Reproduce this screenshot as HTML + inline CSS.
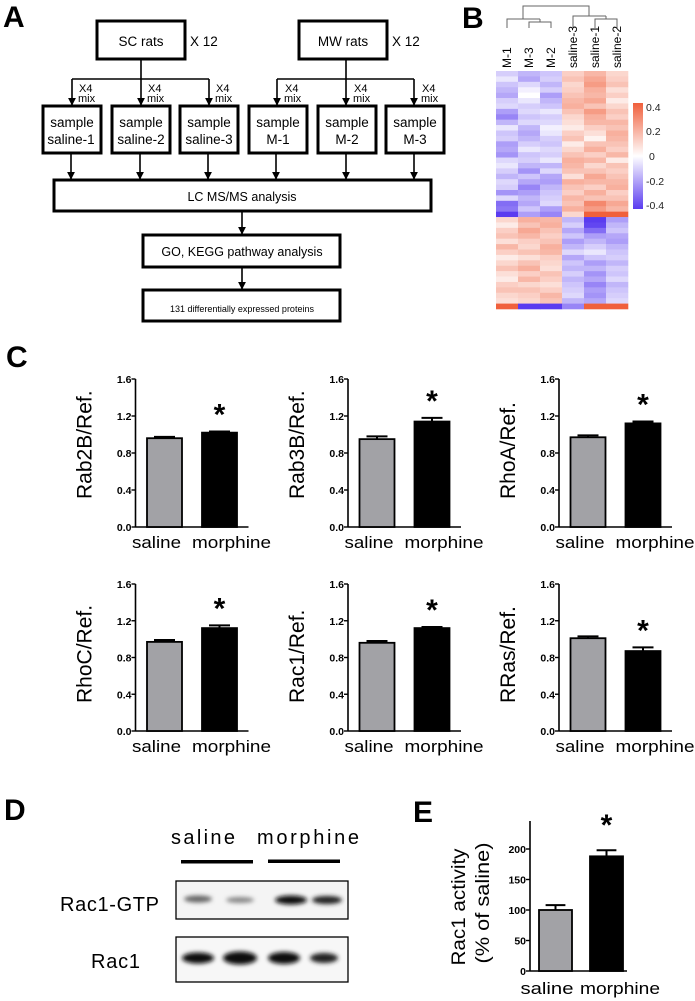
<!DOCTYPE html>
<html><head><meta charset="utf-8"><style>
html,body{margin:0;padding:0;background:#fff;}
svg{display:block;font-family:"Liberation Sans",Arial,sans-serif;}
</style></head><body>
<svg id="fig" width="695" height="1001" viewBox="0 0 695 1001" xmlns="http://www.w3.org/2000/svg">
<defs>
<marker id="ah" viewBox="0 0 10 10" refX="9" refY="5" markerWidth="5" markerHeight="5" orient="auto"><path d="M0,0 L10,5 L0,10 z" fill="#000"/></marker>
<filter id="blur" x="-30%" y="-80%" width="160%" height="260%"><feGaussianBlur stdDeviation="2.2"/></filter>
</defs>

<!-- PANEL A -->
<g>
<text x="3" y="27" font-size="30" font-weight="bold">A</text>
<g fill="none" stroke="#000" stroke-width="3">
<rect x="97" y="21" width="88" height="38"/>
<rect x="299" y="21" width="88" height="38"/>
<rect x="43" y="106" width="58" height="47"/>
<rect x="112" y="106" width="58" height="47"/>
<rect x="180" y="106" width="58" height="47"/>
<rect x="249" y="106" width="58" height="47"/>
<rect x="318" y="106" width="58" height="47"/>
<rect x="386" y="106" width="58" height="47"/>
<rect x="54" y="180" width="377" height="31"/>
<rect x="143" y="235" width="197" height="32"/>
<rect x="143" y="290" width="197" height="31"/>
</g>
<g stroke="#000" stroke-width="1.6" fill="none">
<path d="M141,59 V79 M72,79 H209 M346,59 V79 M277,79 H414"/>
<line x1="72" y1="79" x2="72" y2="105" marker-end="url(#ah)"/>
<line x1="141" y1="79" x2="141" y2="105" marker-end="url(#ah)"/>
<line x1="209" y1="79" x2="209" y2="105" marker-end="url(#ah)"/>
<line x1="277" y1="79" x2="277" y2="105" marker-end="url(#ah)"/>
<line x1="346" y1="79" x2="346" y2="105" marker-end="url(#ah)"/>
<line x1="414" y1="79" x2="414" y2="105" marker-end="url(#ah)"/>
<line x1="71" y1="154" x2="71" y2="179" marker-end="url(#ah)"/>
<line x1="140" y1="154" x2="140" y2="179" marker-end="url(#ah)"/>
<line x1="208" y1="154" x2="208" y2="179" marker-end="url(#ah)"/>
<line x1="276" y1="154" x2="276" y2="179" marker-end="url(#ah)"/>
<line x1="346" y1="154" x2="346" y2="179" marker-end="url(#ah)"/>
<line x1="414" y1="154" x2="414" y2="179" marker-end="url(#ah)"/>
<line x1="242" y1="212" x2="242" y2="234" marker-end="url(#ah)"/>
<line x1="242" y1="268" x2="242" y2="289" marker-end="url(#ah)"/>
</g>
<g font-size="13.5" text-anchor="middle">
<text x="141" y="46">SC rats</text><text x="343" y="46">MW rats</text>
<text x="72" y="127">sample</text><text x="71" y="144">saline-1</text>
<text x="141" y="127">sample</text><text x="141" y="144">saline-2</text>
<text x="209" y="127">sample</text><text x="209" y="144">saline-3</text>
<text x="278" y="127">sample</text><text x="278" y="144">M-1</text>
<text x="347" y="127">sample</text><text x="347" y="144">M-2</text>
<text x="415" y="127">sample</text><text x="415" y="144">M-3</text>
<text x="242" y="201" font-size="12.5">LC MS/MS analysis</text>
<text x="242" y="256" font-size="12.5">GO, KEGG pathway analysis</text>
<text x="242" y="312" font-size="9">131 differentially expressed proteins</text>
</g>
<g font-size="13.5"><text x="190" y="46">X 12</text><text x="392" y="46">X 12</text></g>
<g font-size="11">
<text x="79" y="92">X4</text><text x="78" y="102">mix</text>
<text x="148" y="92">X4</text><text x="147" y="102">mix</text>
<text x="216" y="92">X4</text><text x="215" y="102">mix</text>
<text x="285" y="92">X4</text><text x="284" y="102">mix</text>
<text x="354" y="92">X4</text><text x="353" y="102">mix</text>
<text x="422" y="92">X4</text><text x="421" y="102">mix</text>
</g>
</g>

<!-- PANEL B -->
<g>
<text x="462" y="28" font-size="30" font-weight="bold">B</text>
<g stroke="#666" stroke-width="1" fill="none">
<path d="M507,28 V19 H540 M529,28 V22 H551 V28 M540,22 V19 M573,28 V16 H606 M595,28 V19 H617 V28 M606,19 V16 M523,19 V6 H589 V16"/>
</g>
<g id="heatmap"></g>
<g id="hmLabels" font-size="12"></g>
<defs><linearGradient id="cbar" x1="0" y1="0" x2="0" y2="1">
<stop offset="0" stop-color="#f0603c"/><stop offset="0.5" stop-color="#ffffff"/><stop offset="1" stop-color="#5a3cf0"/></linearGradient></defs>
<rect x="633" y="103" width="10" height="106" fill="url(#cbar)"/>
<g font-size="10.5" fill="#222">
<text x="646" y="111">0.4</text><text x="646" y="135">0.2</text><text x="649" y="160">0</text><text x="646" y="185">-0.2</text><text x="646" y="209">-0.4</text>
</g>
</g>

<!-- PANEL C -->
<text x="6" y="367" font-size="30" font-weight="bold">C</text>
<g id="panelC"></g>

<!-- PANEL D -->
<g>
<text x="4" y="820" font-size="30" font-weight="bold">D</text>
<text x="171" y="844" font-size="20" textLength="64">saline</text>
<text x="257" y="844" font-size="20" textLength="102">morphine</text>
<rect x="181" y="860" width="72" height="3.5" fill="#000"/>
<rect x="268" y="859.5" width="72" height="3.5" fill="#000"/>
<text x="60" y="911" font-size="20" textLength="99">Rac1-GTP</text>
<text x="91" y="968" font-size="20" textLength="49">Rac1</text>
<rect x="176" y="881" width="172" height="38" fill="#f4f4f4" stroke="#000" stroke-width="1.3"/>
<rect x="176" y="937" width="172" height="45" fill="#f7f7f7" stroke="#000" stroke-width="1.3"/>
<g filter="url(#blur)">
<ellipse cx="198" cy="899" rx="14" ry="3.5" fill="#666"/>
<ellipse cx="240" cy="900" rx="14" ry="3" fill="#888"/>
<ellipse cx="291" cy="900" rx="16" ry="4.5" fill="#111"/>
<ellipse cx="327" cy="900" rx="15" ry="4" fill="#222"/>
<ellipse cx="198" cy="958" rx="16" ry="5.5" fill="#111"/>
<ellipse cx="240" cy="958" rx="17" ry="6.5" fill="#0a0a0a"/>
<ellipse cx="284" cy="958" rx="16" ry="6" fill="#111"/>
<ellipse cx="324" cy="958" rx="14" ry="5" fill="#222"/>
</g>
</g>

<!-- PANEL E -->
<text x="413" y="822" font-size="30" font-weight="bold">E</text>
<g id="panelE"></g>
</svg>
<script>
const NS='http://www.w3.org/2000/svg';
// heatmap data (columns: M-1, M-3, M-2, saline-3, saline-1, saline-2), values x100
const hmCols=['M-1','M-3','M-2','saline-3','saline-1','saline-2'];
const hmRows=[
[-10,-15,-12,12,18,10],[-5,-18,-10,15,22,12],[-12,-8,-15,10,25,15],[-15,-3,-10,12,20,8],
[-18,0,-20,15,18,12],[-10,-5,-15,18,22,5],[-8,-10,-12,20,15,10],[-20,-8,-5,15,25,15],
[-25,-12,-10,10,20,12],[-15,-8,-8,8,18,18],[-5,-15,-3,5,12,15],[-12,-18,-5,12,8,20],
[-10,-15,-10,15,3,18],[-20,-10,-12,5,15,15],[-18,-5,-8,10,20,12],[-22,-12,-10,15,12,18],
[-8,-10,-5,20,18,5],[-5,-15,-15,18,10,15],[-10,-22,-8,15,15,12],[-15,-12,-18,8,22,15],
[-8,-18,-20,20,18,18],[-10,-25,-15,15,12,20],[-22,-20,-12,12,20,12],[-8,-15,-10,18,15,15],
[-30,-18,-8,15,30,22],[-28,-12,-20,20,25,18],[-45,-20,-25,10,40,40],
[10,20,18,-15,-40,-20],[5,15,20,-10,-38,-15],[12,22,15,-18,-30,-12],[15,18,12,-12,-20,-18],
[8,12,15,-20,-15,-20],[18,10,20,-15,-10,-15],[12,15,18,-8,-5,-12],[5,8,12,-18,-12,-10],
[10,15,10,-12,-20,-15],[15,20,8,-15,-15,-10],[8,12,15,-10,-22,-12],[5,18,12,-15,-18,-8],
[12,10,8,-12,-25,-15],[15,15,12,-10,-20,-12],[10,12,18,-8,-22,-10],[8,10,15,-15,-18,-8],
[45,-45,-45,-25,45,45]];
// panel C data
const cCats=['saline','morphine'];
const cTitles=['Rab2B/Ref.','Rab3B/Ref.','RhoA/Ref.','RhoC/Ref.','Rac1/Ref.','RRas/Ref.'];
const cSaline=[0.96,0.95,0.97,0.97,0.96,1.01];
const cSalineErr=[0.015,0.03,0.02,0.02,0.02,0.02];
const cMorphine=[1.02,1.14,1.12,1.12,1.12,0.87];
const cMorphineErr=[0.012,0.04,0.02,0.03,0.012,0.04];
const cTicks=[0,0.4,0.8,1.2,1.6];
const cTickLabels=['0.0','0.4','0.8','1.2','1.6'];
// panel E data
const eCats=['saline','morphine'];
const eValues=[100,188];
const eErr=[8,10];
const eTicks=[0,50,100,150,200];

function mk(tag,attrs,parent,txt){const e=document.createElementNS(NS,tag);for(const k in attrs)e.setAttribute(k,attrs[k]);if(txt!==undefined)e.textContent=txt;parent.appendChild(e);return e;}
function col(v){const t=Math.max(-1,Math.min(1,v/0.4));let a=[255,255,255],b;
 if(t>=0){b=[240,96,60];}else{b=[90,60,240];}
 const f=Math.abs(t);return 'rgb('+a.map((c,i)=>Math.round(c+(b[i]-c)*f)).join(',')+')';}

// heatmap
(function(){
 const g=document.getElementById('heatmap');
 const x0=496,y0=71,w=132,h=238;
 const cw=w/hmCols.length, rh=h/hmRows.length;
 hmRows.forEach((row,i)=>row.forEach((v,j)=>{
  const r=mk('rect',{x:(x0+j*cw).toFixed(2),y:(y0+i*rh).toFixed(2),width:(cw+0.3).toFixed(2),height:(rh+0.3).toFixed(2),fill:col(v/100)},g);
  
  
 }));
 const lg=document.getElementById('hmLabels');
 hmCols.forEach((c,j)=>{
  const cx=x0+(j+0.5)*cw+4;
  const t=mk('text',{x:0,y:0,transform:'translate('+cx.toFixed(1)+',68) rotate(-90)'},lg,c);
  
  
 });
})();

function barChart(g,opt){
 const ys=v=>opt.y0-(v-opt.vmin)/(opt.vmax-opt.vmin)*(opt.y0-opt.ytop);
 const ax=opt.ax;
 mk('line',{x1:ax,y1:opt.axTop,x2:ax,y2:opt.y0,stroke:'#000','stroke-width':1.6},g);
 mk('line',{x1:ax,y1:opt.y0,x2:opt.axEnd,y2:opt.y0,stroke:'#000','stroke-width':1.6},g);
 opt.ticks.forEach((t,i)=>{
  const y=ys(t);
  mk('line',{x1:ax-4,y1:y,x2:ax,y2:y,stroke:'#000','stroke-width':1.4},g);
  const tl=mk('text',{x:ax-4,y:y+4,'font-size':10.5,'font-weight':'bold','text-anchor':'end'},g,opt.tickLabels[i]);
  
  
 });
 opt.values.forEach((v,i)=>{
  const cx=ax+opt.centers[i];
  const top=ys(v);
  const bar=mk('rect',{x:cx-opt.bw/2,y:top,width:opt.bw,height:opt.y0-top,fill:i===0?'#a2a2a6':'#000',stroke:'#000','stroke-width':1.8},g);
  
  
  const et=ys(v+opt.errs[i]);
  const eb=mk('path',{d:'M'+cx+','+top+' V'+et+' M'+(cx-opt.bw*0.3)+','+et+' H'+(cx+opt.bw*0.3),stroke:'#000','stroke-width':2,fill:'none'},g);
  
  
  const xl=mk('text',{x:ax+opt.labelX[i],y:opt.labelY,'font-size':17,'text-anchor':'middle',textLength:opt.labelW[i],lengthAdjust:'spacingAndGlyphs'},g,opt.cats[i]);
  
  
 });
 const sv=opt.values[1]+opt.errs[1];
 const st=mk('text',{x:ax+opt.centers[1],y:ys(sv)-opt.starGap+17,'font-size':30,'font-weight':'bold','text-anchor':'middle'},g,'*');
 
 
}

(function(){
 const root=document.getElementById('panelC');
 const axX=[135.5,348,559];
 const rows=[{y0:527,ytop:379},{y0:731,ytop:584}];
 cTitles.forEach((title,k)=>{
  const r=Math.floor(k/3),c=k%3;
  const g=mk('g',{},root);
  
  
  const ax=axX[c];
  barChart(g,{ax:ax,axTop:rows[r].ytop,axEnd:ax+113,y0:rows[r].y0,ytop:rows[r].ytop,vmin:0,vmax:1.6,
   ticks:cTicks,tickLabels:cTickLabels,values:[cSaline[k],cMorphine[k]],errs:[cSalineErr[k],cMorphineErr[k]],
   cats:cCats,centers:[29,84],bw:35,labelX:[21,96],labelW:[49,79],labelY:rows[r].y0+21,starGap:24});
  const tt=mk('text',{x:0,y:0,transform:'translate('+(ax-44)+','+(rows[r].y0-28)+') rotate(-90)','font-size':21,'text-anchor':'start'},g,title);
  
  
 });
})();

(function(){
 const g=document.getElementById('panelE');
 barChart(g,{ax:530,axTop:821,axEnd:627,y0:971,ytop:849,vmin:0,vmax:200,
  ticks:eTicks,tickLabels:eTicks.map(String),values:eValues,errs:eErr,cats:eCats,
  centers:[25.5,76.5],bw:33,labelX:[17,90],labelW:[53,80],labelY:994,starGap:32});
 const t1=mk('text',{x:0,y:0,transform:'translate(465,907) rotate(-90)','font-size':19,'text-anchor':'middle',textLength:117,lengthAdjust:'spacingAndGlyphs'},g,'Rac1 activity');
 
 
 const t2=mk('text',{x:0,y:0,transform:'translate(489,903) rotate(-90)','font-size':19,'text-anchor':'middle',textLength:121,lengthAdjust:'spacingAndGlyphs'},g,'(% of saline)');
 
 
})();
</script>
</body></html>
